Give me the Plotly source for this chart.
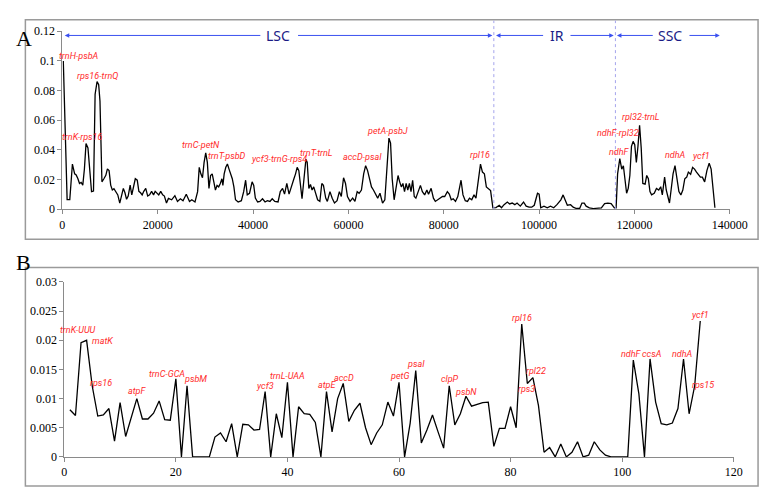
import plotly.graph_objects as go

W, H = 778, 495

# ---- panel A: sliding window Pi along the plastome ----
a_pos = [200, 1000, 1560, 2110, 2580, 2900, 3265, 3600, 3940, 4285, 4625, 4965, 5370, 5715, 6120, 6530,
         6870, 7280, 7620, 7890, 8300, 8710, 9120, 9450, 9800, 10140, 10480, 10820, 11160, 11630, 12040,
         12380, 12790, 13130, 13470, 13810, 14220, 14560, 14900, 15300, 15710, 16050, 16400, 16740, 17080,
         17490, 17900, 18300, 18720, 19130, 19470, 19810, 20220, 20630, 21040, 21400, 21840, 22250, 22920,
         23600, 24150, 24760, 25310, 25990, 26670, 27150, 27820, 28370, 28710, 29050, 29390, 29730, 30070,
         30410, 30750, 31090, 31430, 31770, 32110, 32450, 32790, 33130, 33470, 33670, 33940, 34280, 34620,
         34960, 35300, 35640, 35980, 36320, 36870, 37550, 38030, 38440, 38780, 39260, 39800, 40140, 40480,
         40960, 41440, 41980, 42520, 43000, 43540, 44020, 44560, 45240, 45710, 46190, 46600, 47080, 47550,
         48100, 48570, 48910, 49250, 49600, 49930, 50270, 50680, 51090, 51360, 51700, 52040, 52380, 52720,
         53130, 53540, 54010, 54420, 54760, 55240, 55580, 56130, 56600, 57080, 57620, 58100, 58510, 58980,
         59390, 59800, 60340, 60890, 61370, 61840, 62250, 62730, 63200, 63610, 64020, 64430, 64840, 65250,
         65660, 66140, 66620, 67160, 67640, 68500, 68840, 69180, 69590, 70000, 70410, 70750, 71100, 71430,
         71770, 72110, 72450, 72790, 73130, 73470, 73810, 74150, 74620, 75100, 75510, 75990, 76460, 76800,
         77350, 77830, 78230, 78710, 79250, 79730, 80200, 80750, 81160, 81570, 81980, 82460, 82940, 83350,
         83620, 84030, 84510, 84980, 85390, 85870, 86340, 86750, 87230, 87700, 88110, 88520, 88930, 89340,
         89820, 90300, 90950, 91630, 92110, 92650, 93330, 93810, 94350, 94900, 95370, 96050, 96730, 97280,
         97890, 98440, 98980, 99660, 100000, 100340, 101020, 101700, 102380, 103060, 103740, 104560, 105030,
         105440, 105920, 106600, 107140, 107820, 108500, 108980, 109460, 109860, 110540, 111360, 112380,
         113060, 113740, 114420, 115100, 115780, 116150, 116460, 116920, 117330, 117670, 118010, 118350,
         118690, 119030, 119370, 119710, 120050, 120390, 120730, 121070, 121410, 121750, 122230, 122570,
         122910, 123250, 123590, 124140, 124610, 125090, 125500, 125840, 126320, 126660, 127000, 127340,
         127680, 128090, 128500, 128910, 129320, 129730, 130140, 130550, 130960, 131300, 131780, 132190,
         132600, 133010, 133420, 133830, 134240, 134720, 135190, 135670, 136080, 136550, 136870]
a_pi = [0.100, 0.0064, 0.0064, 0.0304, 0.0238, 0.0230, 0.0205, 0.0173, 0.0180, 0.0162, 0.0271, 0.0442, 0.0413,
        0.0293, 0.0118, 0.0122, 0.0774, 0.0861, 0.0840, 0.0730, 0.0184, 0.0205, 0.0228, 0.0271, 0.0260, 0.0162,
        0.0129, 0.0138, 0.0120, 0.0096, 0.0041, 0.0096, 0.0140, 0.0110, 0.0066, 0.0088, 0.0162, 0.0096, 0.0144,
        0.0205, 0.0195, 0.0120, 0.0110, 0.0096, 0.0120, 0.0140, 0.0088, 0.0096, 0.0120, 0.0096, 0.0120, 0.0110,
        0.0096, 0.0120, 0.0096, 0.0088, 0.0041, 0.0072, 0.0063, 0.0091, 0.0052, 0.0070, 0.0057, 0.0100, 0.0052,
        0.0063, 0.0048, 0.0118, 0.0282, 0.0238, 0.0212, 0.0315, 0.0380, 0.0315, 0.0140, 0.0227, 0.0238, 0.0184,
        0.0129, 0.0160, 0.0150, 0.0173, 0.0205, 0.0160, 0.0238, 0.0282, 0.0304, 0.0270, 0.0238, 0.0205, 0.0150,
        0.0063, 0.0048, 0.0057, 0.0118, 0.0195, 0.0096, 0.0107, 0.0184, 0.0160, 0.0074, 0.0048, 0.0052, 0.0070,
        0.0048, 0.0057, 0.0052, 0.0070, 0.0052, 0.0048, 0.0118, 0.0140, 0.0101, 0.0173, 0.0101, 0.0166, 0.0205,
        0.0238, 0.0282, 0.0260, 0.0151, 0.0070, 0.0205, 0.0337, 0.0315, 0.0140, 0.0166, 0.0129, 0.0150, 0.0107,
        0.0063, 0.0052, 0.0173, 0.0160, 0.0074, 0.0052, 0.0118, 0.0074, 0.0041, 0.0057, 0.0118, 0.0085, 0.0212,
        0.0173, 0.0085, 0.0052, 0.0074, 0.0052, 0.0118, 0.0107, 0.0129, 0.0238, 0.0293, 0.0260, 0.0195, 0.0150,
        0.0129, 0.0107, 0.0074, 0.0107, 0.0041, 0.0063, 0.0479, 0.0446, 0.0205, 0.0063, 0.0160, 0.0227, 0.0184,
        0.0150, 0.0173, 0.0118, 0.0173, 0.0129, 0.0173, 0.0118, 0.0195, 0.0085, 0.0074, 0.0118, 0.0160, 0.0118,
        0.0096, 0.0129, 0.0101, 0.0140, 0.0074, 0.0052, 0.0063, 0.0070, 0.0085, 0.0085, 0.0118, 0.0101, 0.0063,
        0.0070, 0.0052, 0.0085, 0.0150, 0.0195, 0.0096, 0.0057, 0.0052, 0.0074, 0.0063, 0.0096, 0.0074, 0.0205,
        0.0304, 0.0250, 0.0238, 0.0150, 0.0140, 0.0125, 0.0009, 0.0010, 0.0026, 0.0009, 0.0030, 0.0048, 0.0035,
        0.0041, 0.0030, 0.0041, 0.0020, 0.0048, 0.0020, 0.0013, 0.0013, 0.0026, 0.0107, 0.0101, 0.0009, 0.0020,
        0.0009, 0.0020, 0.0009, 0.0030, 0.0063, 0.0096, 0.0063, 0.0026, 0.0030, 0.0013, 0.0004, 0.0004, 0.0041,
        0.0041, 0.0020, 0.0009, 0.0004, 0.0004, 0.0009, 0.0037, 0.0041, 0.0037, 0.0009, 0.0009, 0.0238, 0.0341,
        0.0270, 0.0293, 0.0197, 0.0107, 0.0140, 0.0227, 0.0424, 0.0457, 0.0435, 0.0315, 0.0424, 0.0566, 0.0413,
        0.0173, 0.0168, 0.0227, 0.0205, 0.0118, 0.0096, 0.0107, 0.0140, 0.0129, 0.0151, 0.0096, 0.0216, 0.0129,
        0.0085, 0.0041, 0.0129, 0.0238, 0.0293, 0.0205, 0.0118, 0.0096, 0.0129, 0.0205, 0.0216, 0.0250, 0.0235,
        0.0282, 0.0270, 0.0250, 0.0235, 0.0216, 0.0216, 0.0184, 0.0260, 0.0310, 0.0270, 0.0085, 0.0009]

a_labels = ["trnH-psbA", "rps16-trnQ", "trnK-rps16", "trnC-petN", "trnT-psbD", "ycf3-trnG-rps4", "trnT-trnL",
            "accD-psaI", "petA-psbJ", "rpl16", "ndhF-rpl32", "ndhF", "rpl32-trnL", "ndhA", "ycf1"]
a_label_x = [3400, 7280, 4300, 29180, 34630, 45500, 53300, 62860, 68300, 87550, 116600, 116940, 121400, 128570, 134000]
a_label_y = [0.1036, 0.090, 0.049, 0.0435, 0.0359, 0.0337, 0.038, 0.0354, 0.0529, 0.0363, 0.0512, 0.0385, 0.0621, 0.0363, 0.0359]

regions = ["LSC", "IR", "SSC"]
region_text_x = [45170, 103670, 127550]
region_start = [500, 90950, 116320]
region_end = [90200, 115650, 137900]
region_gap = [(41840, 49120), (101150, 106260), (124150, 131220)]
boundaries = [90500, 116000]

# ---- panel B: Pi per gene / region ----
b_idx = list(range(1, 115))
b_pi = [0.0081, 0.0071, 0.0196, 0.0200, 0.0122, 0.0070, 0.0072, 0.0083, 0.0027, 0.0093,
        0.0035, 0.0068, 0.0100, 0.0065, 0.0065, 0.0075, 0.0096, 0.0064, 0.0063, 0.0134,
        0.0, 0.0122, 0.0, 0.0, 0.0, 0.0, 0.0034, 0.0041, 0.0026, 0.0057,
        0.0, 0.0056, 0.0055, 0.0046, 0.0047, 0.0112, 0.0, 0.0074, 0.0033, 0.0128,
        0.0, 0.0086, 0.0074, 0.0073, 0.0059, 0.0, 0.0112, 0.0043, 0.0100, 0.0126,
        0.0061, 0.0080, 0.0092, 0.0050, 0.0021, 0.0041, 0.0055, 0.0094, 0.0070, 0.0128,
        0.0, 0.0058, 0.0148, 0.0024, 0.0046, 0.0072, 0.0043, 0.0015, 0.0122, 0.0055,
        0.0074, 0.0104, 0.0087, 0.0090, 0.0093, 0.0094, 0.0018, 0.0049, 0.0049, 0.0086,
        0.0050, 0.0228, 0.0126, 0.0136, 0.0088, 0.0008, 0.0016, 0.0, 0.0022, 0.0,
        0.0008, 0.0026, 0.0, 0.0003, 0.0026, 0.0012, 0.0003, 0.0, 0.0, 0.0,
        0.0, 0.0166, 0.0108, 0.0, 0.0168, 0.0094, 0.0057, 0.0055, 0.0058, 0.0083,
        0.0168, 0.0074, 0.0122, 0.0233]

b_labels = ["trnK-UUU", "matK", "rps16", "atpF", "trnC-GCA", "psbM", "ycf3", "trnL-UAA", "atpE", "accD",
            "petG", "psaI", "clpP", "psbN", "rpl16", "rpl22", "rps3", "ndhF", "ccsA", "ndhA", "rps15", "ycf1"]
b_label_x = [2.4, 6.8, 6.6, 13.1, 18.5, 23.5, 36.0, 40.05, 47.1, 50.2,
             60.06, 63.0, 69.07, 72.0, 82.0, 84.6, 82.8, 101.7, 105.3, 110.8, 114.5, 114.0]
b_label_y = [0.0217, 0.0199, 0.0127, 0.0113, 0.0142, 0.0133, 0.0122, 0.0138, 0.0124, 0.0136,
             0.0138, 0.0160, 0.0134, 0.0112, 0.0238, 0.0147, 0.0116, 0.0176, 0.0177, 0.0176, 0.0124, 0.0244]

RED = "#ff2b2b"
NAVY = "#1b1b86"
BLUE = "#3a50f0"
AXIS = "#8a8a8a"
LABEL_FONT = "Roboto, Liberation Sans, sans-serif"
TICK_FONT = dict(family="Liberation Serif", size=12, color="black")

fig = go.Figure()
fig.add_trace(go.Scatter(x=a_pos, y=a_pi, mode="lines", line=dict(color="black", width=1.3),
                         xaxis="x", yaxis="y", showlegend=False))
fig.add_trace(go.Scatter(x=b_idx, y=b_pi, mode="lines", line=dict(color="black", width=1.3),
                         xaxis="x2", yaxis="y2", showlegend=False))

axis_common = dict(showgrid=False, zeroline=False, showline=True, linecolor=AXIS, linewidth=1,
                   ticks="outside", ticklen=4, tickcolor=AXIS, tickfont=TICK_FONT)

fig.update_layout(
    width=W, height=H,
    margin=dict(l=0, r=0, t=0, b=0),
    paper_bgcolor="white", plot_bgcolor="white",
    font=dict(family="Liberation Serif"),
    xaxis=dict(domain=[61 / W, 747 / W], range=[0, 140000], dtick=20000, tickformat="d",
               anchor="y", **axis_common),
    yaxis=dict(domain=[1 - 208 / H, 1 - 25 / H], range=[0, 0.12], dtick=0.02,
               anchor="x", **axis_common),
    xaxis2=dict(domain=[63 / W, 751 / W], range=[0, 120], dtick=20,
                anchor="y2", **axis_common),
    yaxis2=dict(domain=[1 - 463 / H, 1 - 283 / H], range=[0, 0.03], dtick=0.005,
                anchor="x2", **axis_common),
)

shapes = [
    dict(type="rect", xref="paper", yref="paper", x0=23 / W, x1=776 / W, y0=1 - 239 / H, y1=1 - 13 / H,
         line=dict(color="#9a9a9a", width=1.5)),
    dict(type="rect", xref="paper", yref="paper", x0=23 / W, x1=776 / W, y0=1 - 493 / H, y1=1 - 268 / H,
         line=dict(color="#9a9a9a", width=1.5)),
]
for bx in boundaries:
    shapes.append(dict(type="line", xref="x", yref="paper", x0=bx, x1=bx, y0=1 - 208 / H, y1=1 - 14 / H,
                       line=dict(color="#a4a4ec", width=1, dash="dot")))
fig.update_layout(shapes=shapes)

ann = []
# panel letters
ann.append(dict(text="A", xref="paper", yref="paper", x=11 / W, y=1 - 17 / H, showarrow=False,
                font=dict(family="Liberation Serif", size=22, color="black")))
ann.append(dict(text="B", xref="paper", yref="paper", x=11 / W, y=1 - 263 / H, showarrow=False,
                font=dict(family="Liberation Serif", size=22, color="black")))

# region arrows
ry = 0.1172
for name, tx, s, e, (g0, g1) in zip(regions, region_text_x, region_start, region_end, region_gap):
    ann.append(dict(text=name, x=tx, y=ry, xref="x", yref="y", showarrow=False,
                    font=dict(family="Noto Sans, Liberation Sans, sans-serif", size=14, color=NAVY)))
    ann.append(dict(text="", x=s, y=ry, ax=g0, ay=ry, xref="x", yref="y", axref="x", ayref="y",
                    showarrow=True, arrowhead=2, arrowsize=0.9, arrowwidth=1, arrowcolor=BLUE, standoff=0))
    ann.append(dict(text="", x=e, y=ry, ax=g1, ay=ry, xref="x", yref="y", axref="x", ayref="y",
                    showarrow=True, arrowhead=2, arrowsize=0.9, arrowwidth=1, arrowcolor=BLUE, standoff=0))

for t, x, y in zip(a_labels, a_label_x, a_label_y):
    ann.append(dict(text=t, x=x, y=y, xref="x", yref="y", showarrow=False,
                    font=dict(family=LABEL_FONT, size=9, color=RED, style="italic")))
for t, x, y in zip(b_labels, b_label_x, b_label_y):
    ann.append(dict(text=t, x=x, y=y, xref="x2", yref="y2", showarrow=False,
                    font=dict(family=LABEL_FONT, size=9, color=RED, style="italic")))

fig.update_layout(annotations=ann)

fig.write_html("out.html", config={"displayModeBar": False},
               post_script="document.body.style.margin='0';")
